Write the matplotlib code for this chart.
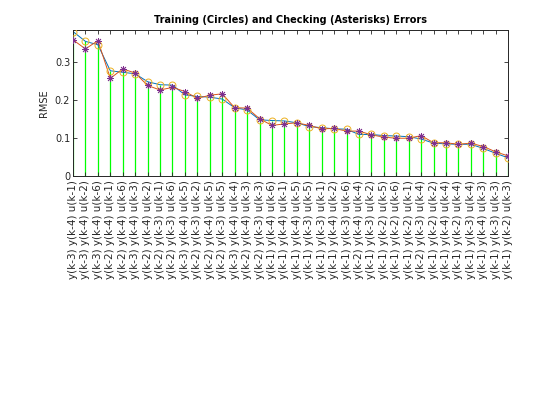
"""Training vs checking RMSE for the 36 input combinations."""

import matplotlib

matplotlib.use("Agg")
import matplotlib.pyplot as plt

input_labels = [
    "y(k-3) y(k-4) u(k-1)", "y(k-3) y(k-4) u(k-2)", "y(k-3) y(k-4) u(k-6)",
    "y(k-2) y(k-4) u(k-1)", "y(k-2) y(k-4) u(k-6)", "y(k-3) y(k-4) u(k-3)",
    "y(k-2) y(k-4) u(k-2)", "y(k-2) y(k-3) u(k-1)", "y(k-2) y(k-3) u(k-6)",
    "y(k-3) y(k-4) u(k-5)", "y(k-2) y(k-3) u(k-2)", "y(k-2) y(k-4) u(k-5)",
    "y(k-2) y(k-3) u(k-5)", "y(k-3) y(k-4) u(k-4)", "y(k-2) y(k-4) u(k-3)",
    "y(k-2) y(k-3) u(k-3)", "y(k-1) y(k-4) u(k-6)", "y(k-1) y(k-4) u(k-1)",
    "y(k-1) y(k-4) u(k-5)", "y(k-1) y(k-3) u(k-5)", "y(k-1) y(k-3) u(k-1)",
    "y(k-1) y(k-4) u(k-2)", "y(k-1) y(k-3) u(k-6)", "y(k-2) y(k-4) u(k-4)",
    "y(k-1) y(k-3) u(k-2)", "y(k-1) y(k-2) u(k-5)", "y(k-1) y(k-2) u(k-6)",
    "y(k-1) y(k-2) u(k-1)", "y(k-2) y(k-3) u(k-4)", "y(k-1) y(k-2) u(k-2)",
    "y(k-1) y(k-4) u(k-4)", "y(k-1) y(k-2) u(k-4)", "y(k-1) y(k-3) u(k-4)",
    "y(k-1) y(k-4) u(k-3)", "y(k-1) y(k-3) u(k-3)", "y(k-1) y(k-2) u(k-3)",
]

trn_error = [
    0.382, 0.356, 0.347, 0.278, 0.274, 0.270, 0.249, 0.241, 0.240,
    0.214, 0.210, 0.208, 0.203, 0.180, 0.174, 0.148, 0.146, 0.145,
    0.140, 0.130, 0.127, 0.124, 0.123, 0.109, 0.109, 0.106, 0.105,
    0.103, 0.097, 0.086, 0.084, 0.083, 0.083, 0.072, 0.059, 0.047,
]

chk_error = [
    0.360, 0.336, 0.358, 0.258, 0.283, 0.272, 0.239, 0.227, 0.234,
    0.223, 0.205, 0.213, 0.217, 0.180, 0.179, 0.151, 0.133, 0.137,
    0.140, 0.133, 0.124, 0.125, 0.118, 0.118, 0.108, 0.102, 0.099,
    0.099, 0.106, 0.087, 0.087, 0.083, 0.086, 0.077, 0.063, 0.052,
]


def main() -> None:
    n = len(input_labels)
    x = list(range(n))
    ink = (0.15, 0.15, 0.15)

    fig = plt.figure(figsize=(5.6, 4.2), dpi=100)
    ax = fig.add_axes([0.1304, 0.582, 0.777, 0.3464])

    # green stems up to the larger of the two errors
    tops = [max(a, b) for a, b in zip(trn_error, chk_error)]
    ax.vlines(x, 0, tops, colors=(0, 1, 0), linewidth=0.9, zorder=1)

    ax.plot(x, trn_error, "-", color="#0072BD", linewidth=0.7, zorder=2)
    ax.plot(x, chk_error, "-", color="#D95319", linewidth=0.7, zorder=2)
    ax.plot(x, trn_error, "o", color="#EDB120", markerfacecolor="none",
            markersize=5, markeredgewidth=0.7, zorder=3)
    ax.plot(x, chk_error, linestyle="none", marker=(8, 2, 0), color="#7E2F8E",
            markersize=5, markeredgewidth=0.6, zorder=3)

    ax.set_xlim(0, n - 1)
    ax.set_ylim(0, 0.386)
    ax.set_xticks(x)
    ax.set_xticklabels(input_labels, rotation=90, fontsize=7.5, color=ink)
    ax.set_yticks([0, 0.1, 0.2, 0.3])
    ax.set_yticklabels(["0", "0.1", "0.2", "0.3"], fontsize=7, color=ink)
    ax.tick_params(direction="in", length=3, width=0.6, color=ink,
                   top=True, right=True, pad=2)
    ax.tick_params(axis="x", pad=3)
    for spine in ax.spines.values():
        spine.set_color(ink)
        spine.set_linewidth(0.7)

    ax.set_ylabel("RMSE", fontsize=7, color=ink, labelpad=4)
    ax.set_title("Training (Circles) and Checking (Asterisks) Errors",
                 fontsize=7, fontweight="bold", color="black", pad=5)

    fig.savefig("out.png", dpi=100)


if __name__ == "__main__":
    main()
